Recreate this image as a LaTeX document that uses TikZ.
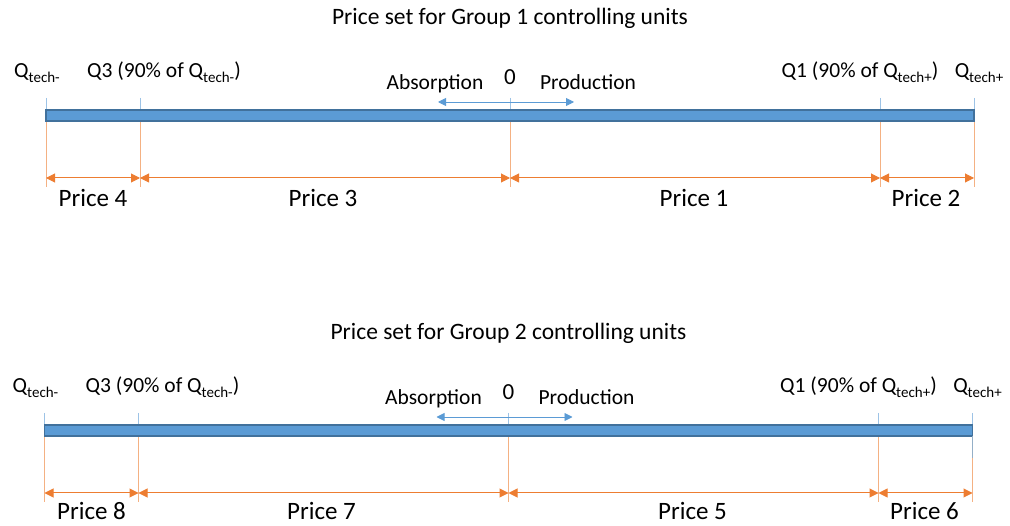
\documentclass[tikz,border=0pt]{standalone}
\usepackage{fontspec}
\setmainfont{Carlito}
\usetikzlibrary{arrows.meta}
\definecolor{barfill}{HTML}{5B9BD5}
\definecolor{barline}{HTML}{41719C}
\definecolor{tickblue}{HTML}{9DC3E6}
\definecolor{orng}{HTML}{ED7D31}
\definecolor{lorng}{HTML}{F4B183}
\newcommand\sbs[1]{\raisebox{-0.4ex}{\fontsize{15}{15}\selectfont #1}}
\tikzset{
  lbl/.style={anchor=base, inner sep=0pt, font=\fontsize{21.5}{25}\selectfont},
  ttl/.style={anchor=base, inner sep=0pt, font=\fontsize{23.5}{27}\selectfont},
  plbl/.style={anchor=base, inner sep=0pt, font=\fontsize{25}{29}\selectfont},
  bartick/.style={draw=tickblue, line width=0.8pt},
  guide/.style={draw=lorng, line width=1pt},
  dim/.style={draw=orng, line width=1pt, {Triangle[length=9pt,width=9pt]}-{Triangle[length=9pt,width=9pt]}},
  dirarrow/.style={draw=barfill, line width=0.9pt, {Triangle[length=8pt,width=8pt]}-{Triangle[length=8pt,width=8pt]}},
  barstyle/.style={draw=barline, fill=barfill, line width=1.2pt}
}
\newcommand\mkcol[3]{% prefix, name, x
  \coordinate (#1#2top) at (#3,98);
  \coordinate (#1#2bar) at (#3,110);
  \coordinate (#1#2low) at (#3,121);
  \coordinate (#1#2end) at (#3,187);
  \coordinate (#1#2dim) at (#3,178);
  \draw[bartick] (#1#2top) -- (#1#2bar);
  \draw[guide] (#1#2low) -- (#1#2end);
}
\newcommand\pricey{207}
\newcommand\drawgroup[8]{%
\begin{scope}[shift={(#3,#2)}]
  \node[ttl] (#1title) at (510,25) {Price set for Group #4 controlling units};
  \node[lbl] (#1qm) at (37,78) {Q\sbs{tech-}};
  \node[lbl] (#1qthree) at (164,78) {Q3 (90\% of Q\sbs{tech-})};
  \node[lbl] (#1qone) at (860,78) {Q1 (90\% of Q\sbs{tech+})};
  \node[lbl] (#1qp) at (979,78) {Q\sbs{tech+}};
  \node[lbl] (#1abs) at (435,90) {Absorption};
  \node[lbl, font=\fontsize{23}{27}\selectfont] (#1zero) at (510,85) {0};
  \node[lbl] (#1prod) at (588,90) {Production};
  \mkcol{#1}{L}{46}
  \mkcol{#1}{A}{140}
  \mkcol{#1}{Z}{510}
  \mkcol{#1}{B}{880}
  \mkcol{#1}{R}{974}
  \coordinate (#1absend) at (438,102);
  \coordinate (#1prodend) at (574,102);
  \draw[barstyle] (#1Lbar) rectangle (#1Rlow);
  \draw[dirarrow] (#1absend) -- (#1prodend);
  \draw[dim] (#1Ldim) -- (#1Adim);
  \draw[dim] (#1Adim) -- (#1Zdim);
  \draw[dim] (#1Zdim) -- (#1Bdim);
  \draw[dim] (#1Bdim) -- (#1Rdim);
  \node[plbl] (#1pa) at (93,\pricey) {Price #5};
  \node[plbl] (#1pb) at (323,\pricey) {Price #6};
  \node[plbl] (#1pc) at (694,\pricey) {Price #7};
  \node[plbl] (#1pd) at (926,\pricey) {Price #8};
\end{scope}}
\begin{document}
\begin{tikzpicture}[x=1pt,y=-1pt]
\useasboundingbox (0,0) rectangle (1010,526);
\drawgroup{g}{0}{0}{1}{4}{3}{1}{2}
\renewcommand\pricey{204}
\drawgroup{h}{315}{-1.5}{2}{8}{7}{5}{6}
\coordinate (hRbelow) at (972.5,458);
\draw[draw=tickblue!70!gray, line width=0.8pt] (hRlow) -- (hRbelow);
\end{tikzpicture}
\end{document}
